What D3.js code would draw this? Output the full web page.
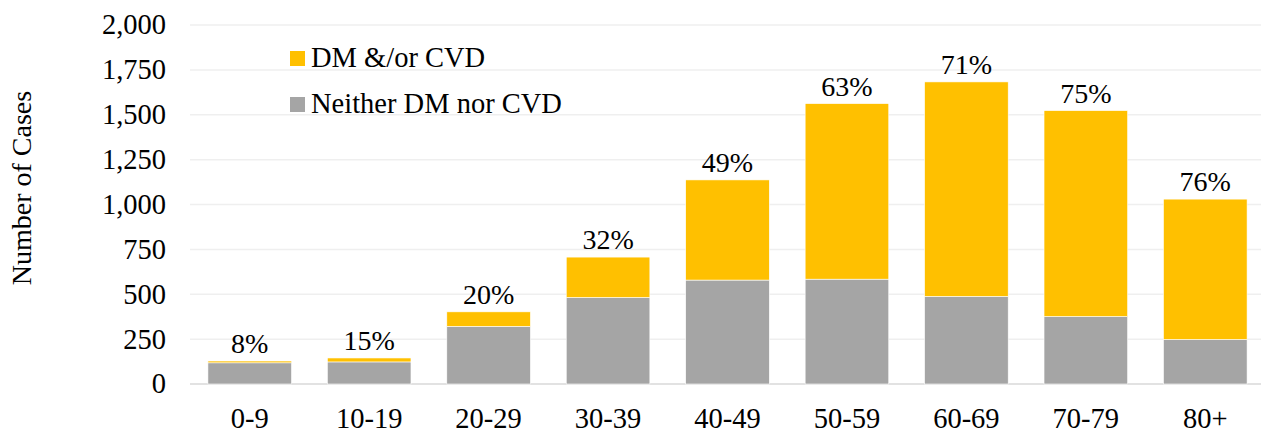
<!DOCTYPE html>
<html>
<head>
<meta charset="utf-8">
<script src="https://cdn.jsdelivr.net/npm/d3@7"></script>
<style>
  body { margin: 0; background: #fff; }
  svg text { font-family: "Liberation Serif", "Times New Roman", serif; fill: #000; }
</style>
</head>
<body>
<svg id="chart" width="1261" height="433"></svg>
<script>
const ageGroups = ["0-9", "10-19", "20-29", "30-39", "40-49", "50-59", "60-69", "70-79", "80+"];
const neither = [118, 123, 321, 482, 579, 584, 488, 376, 248];
const dmCvd = [10, 22, 81, 225, 558, 978, 1195, 1147, 782];
const pctLabels = ["8%", "15%", "20%", "32%", "49%", "63%", "71%", "75%", "76%"];
const yTicks = [0, 250, 500, 750, 1000, 1250, 1500, 1750, 2000];

const colors = { dm: "#FFC000", neither: "#A5A5A5" };
const W = 1261, H = 433;
const margin = { left: 190, right: -4, top: 25, bottom: 49 };

const svg = d3.select("#chart");
const g = svg.append("g");

const x = d3.scaleBand()
  .domain(ageGroups)
  .range([margin.left, W - margin.right])
  .paddingInner(0.3)
  .paddingOuter(0.15);

const y = d3.scaleLinear()
  .domain([0, 2000])
  .range([H - margin.bottom, margin.top]);

const fmt = d3.format(",");

//--grid
g.append("g")
  .selectAll("line")
  .data(yTicks)
  .enter()
  .append("line")
  .attr("x1", margin.left)
  .attr("x2", W)
  .attr("y1", (d) => y(d))
  .attr("y2", (d) => y(d))
  .style("stroke", (d) => (d == 0 ? "#d9d9d9" : "#efefef"))
  .style("stroke-width", 1.5);

//--y labels
g.append("g")
  .selectAll("text")
  .data(yTicks)
  .enter()
  .append("text")
  .attr("x", 166)
  .attr("y", (d) => y(d))
  .attr("dy", "0.33em")
  .attr("text-anchor", "end")
  .attr("font-size", "28.5px")
  .text((d) => fmt(d));

g.append("text")
  .attr("transform", "translate(31,188) rotate(-90)")
  .attr("text-anchor", "middle")
  .attr("font-size", "28px")
  .text("Number of Cases");

//--stacked bars
const rows = ageGroups.map((a, i) => ({ age: a, neither: neither[i], dm: dmCvd[i] }));
const stack = d3.stack().keys(["neither", "dm"])(rows);

g.append("g")
  .selectAll("g")
  .data(stack)
  .enter()
  .append("g")
  .style("fill", (s) => colors[s.key])
  .selectAll("rect")
  .data((s) => s)
  .enter()
  .append("rect")
  .attr("x", (d) => x(d.data.age))
  .attr("width", x.bandwidth())
  .attr("y", (d) => y(d[1]))
  .attr("height", (d) => y(d[0]) - y(d[1]))
  .style("stroke", "#fff")
  .style("stroke-width", 0.6);

//--percent labels
g.append("g")
  .selectAll("text")
  .data(rows)
  .enter()
  .append("text")
  .attr("x", (d) => x(d.age) + x.bandwidth() / 2)
  .attr("y", (d) => y(d.neither + d.dm) - 8)
  .attr("text-anchor", "middle")
  .attr("font-size", "28px")
  .text((d, i) => pctLabels[i]);

//--x labels
g.append("g")
  .selectAll("text")
  .data(ageGroups)
  .enter()
  .append("text")
  .attr("x", (d) => x(d) + x.bandwidth() / 2)
  .attr("y", 428)
  .attr("text-anchor", "middle")
  .attr("font-size", "28.5px")
  .text((d) => d);

//--legend
const legend = [
  { name: "DM &/or CVD", color: colors.dm },
  { name: "Neither DM nor CVD", color: colors.neither },
];
const lg = g.append("g").selectAll("g").data(legend).enter().append("g")
  .attr("transform", (d, i) => `translate(290,${51 + i * 46})`);
lg.append("rect").attr("width", 15).attr("height", 15).style("fill", (d) => d.color);
lg.append("text").attr("x", 21).attr("y", 15.5).attr("font-size", "28.5px").text((d) => d.name);
</script>
</body>
</html>
